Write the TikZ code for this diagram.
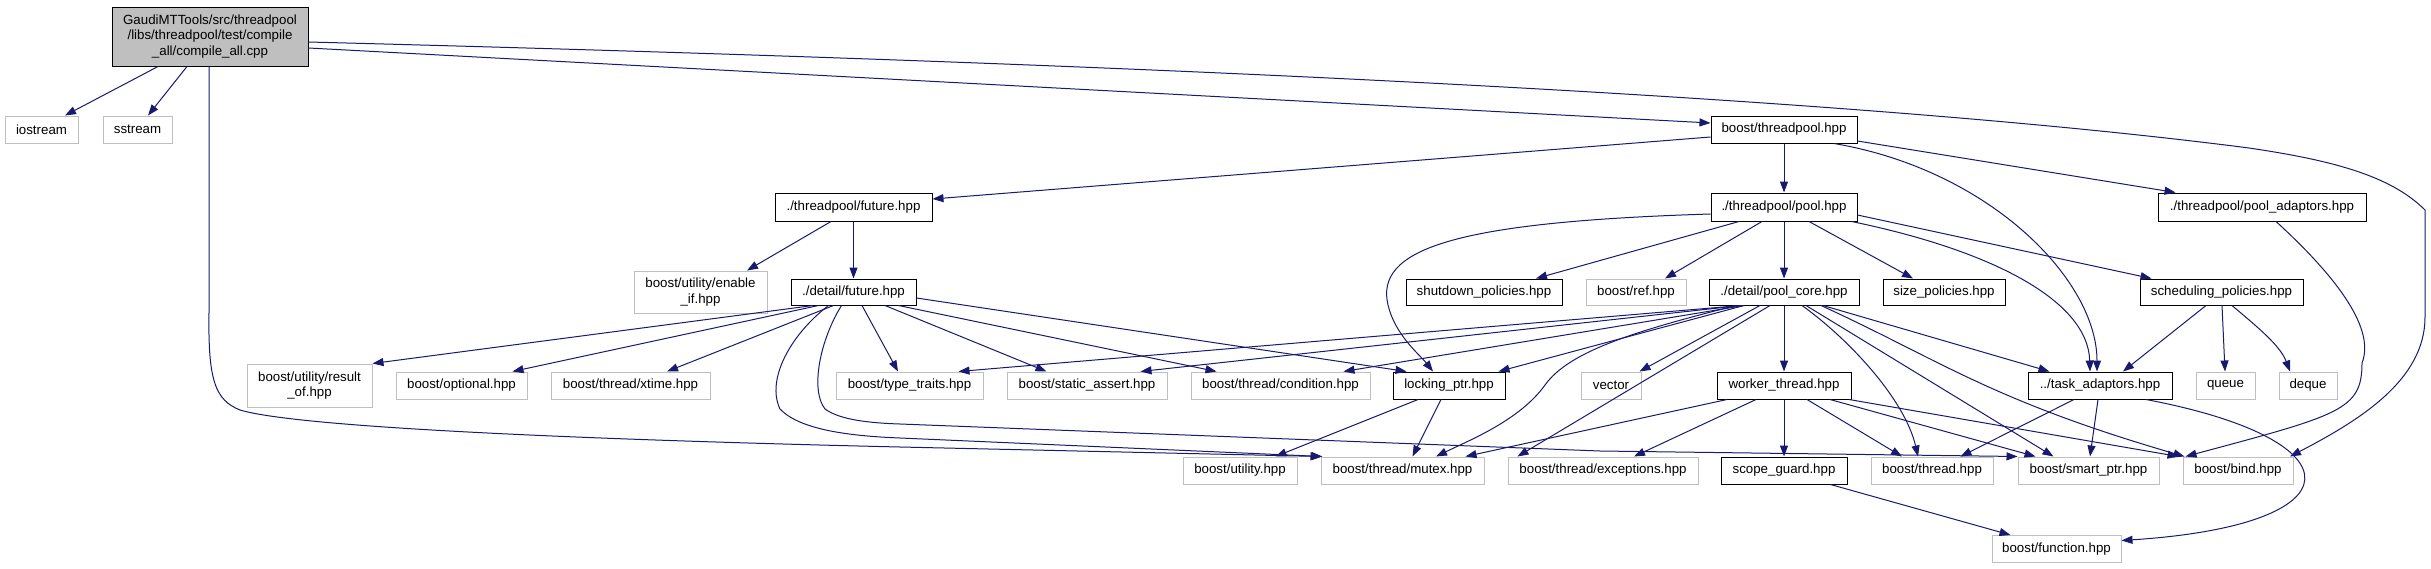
\documentclass[tikz,border=0pt]{standalone}
\usepackage{fontspec}
\setmainfont{Liberation Sans}
\usetikzlibrary{arrows.meta}
\definecolor{edgec}{HTML}{191970}
\definecolor{grayc}{HTML}{BFBFBF}
\begin{document}
\begin{tikzpicture}[x=1pt,y=-1pt,
  box/.style={draw=black, line width=1pt, fill=white, minimum height=27pt, inner sep=0pt,
    font=\fontsize{13.3}{15.5}\selectfont, align=center},
  gbox/.style={box, draw=grayc},
  edge/.style={draw=edgec, line width=1pt, -{Triangle[length=11pt,width=8pt]}}]
\useasboundingbox (0,0) rectangle (2431,568);
\fill[white] (0,0) rectangle (2431,568);
% row 0
\node[box, fill=grayc, minimum width=196pt, minimum height=59pt] (root) at (210,36.5)
  {GaudiMTTools/src/threadpool\\/libs/threadpool/test/compile\\\_all/compile\_all.cpp};
\node[gbox, minimum width=73pt] (iostream) at (41.5,129.5) {iostream};
\node[gbox, minimum width=69pt] (sstream) at (137.5,129.5) {sstream};
\node[box, minimum width=146pt] (threadpool) at (1784,129.5) {boost/threadpool.hpp};
% row 1
\node[box, minimum width=157pt, minimum height=28pt] (tpfuture) at (853.5,207) {./threadpool/future.hpp};
\node[box, minimum width=146pt, minimum height=28pt] (tppool) at (1784,207) {./threadpool/pool.hpp};
\node[box, minimum width=208pt, minimum height=28pt] (pooladapt) at (2262,207) {./threadpool/pool\_adaptors.hpp};
% row 2
\node[gbox, minimum width=133pt, minimum height=42pt] (enableif) at (700.5,292) {boost/utility/enable\\\_if.hpp};
\node[box, minimum width=125pt, minimum height=26pt] (detfuture) at (853.5,292) {./detail/future.hpp};
\node[box, minimum width=156pt, minimum height=26pt] (shutdown) at (1484,292) {shutdown\_policies.hpp};
\node[gbox, minimum width=100pt, minimum height=26pt] (ref) at (1636,292) {boost/ref.hpp};
\node[box, minimum width=150pt, minimum height=26pt] (poolcore) at (1784,292) {./detail/pool\_core.hpp};
\node[box, minimum width=122pt, minimum height=26pt] (size) at (1944,292) {size\_policies.hpp};
\node[box, minimum width=163pt, minimum height=26pt] (sched) at (2221.5,292) {scheduling\_policies.hpp};
% row 3
\node[gbox, minimum width=125pt, minimum height=43pt] (resultof) at (309.5,385.5) {boost/utility/result\\\_of.hpp};
\node[gbox, minimum width=131pt] (optional) at (461.5,385.5) {boost/optional.hpp};
\node[gbox, minimum width=159pt] (xtime) at (630.5,385.5) {boost/thread/xtime.hpp};
\node[gbox, minimum width=147pt] (typetraits) at (909.5,385.5) {boost/type\_traits.hpp};
\node[gbox, minimum width=160pt] (staticassert) at (1087,385.5) {boost/static\_assert.hpp};
\node[gbox, minimum width=179pt] (condition) at (1280.5,385.5) {boost/thread/condition.hpp};
\node[box, minimum width=112pt] (lockingptr) at (1449,385.5) {locking\_ptr.hpp};
\node[gbox, minimum width=60pt] (vector) at (1611,385.5) {vector};
\node[box, minimum width=134pt] (worker) at (1784,385.5) {worker\_thread.hpp};
\node[box, minimum width=144pt] (taskadapt) at (2100,385.5) {../task\_adaptors.hpp};
\node[gbox, minimum width=59pt] (queue) at (2225.5,385.5) {queue};
\node[gbox, minimum width=58pt] (deque) at (2308,385.5) {deque};
% row 4
\node[gbox, minimum width=114pt] (utility) at (1240,470.5) {boost/utility.hpp};
\node[gbox, minimum width=163pt] (mutex) at (1402.5,470.5) {boost/thread/mutex.hpp};
\node[gbox, minimum width=190pt] (exceptions) at (1603,470.5) {boost/thread/exceptions.hpp};
\node[box, minimum width=126pt] (scopeguard) at (1784,470.5) {scope\_guard.hpp};
\node[gbox, minimum width=122pt] (thread) at (1932,470.5) {boost/thread.hpp};
\node[gbox, minimum width=141pt] (smartptr) at (2088.5,470.5) {boost/smart\_ptr.hpp};
\node[gbox, minimum width=110pt] (bind) at (2238,470.5) {boost/bind.hpp};
% row 5
\node[gbox, minimum width=129pt] (function) at (2056.5,549) {boost/function.hpp};

% root
\draw[edge] ([xshift=-52pt]root.south) -- ([xshift=23.5pt]iostream.north);
\draw[edge] ([xshift=-23pt]root.south) -- ([xshift=10.5pt]sstream.north);
\draw[edge] ([yshift=-11.5pt]root.east) -- ([yshift=6.5pt]threadpool.west);
\draw[edge] ([yshift=-5.5pt]root.east) .. controls (1000,60) and (1800,90) .. (2249,148)
  .. controls (2330,160) and (2390,175) .. (2425,210) -- (2425,317)
  .. controls (2425,380) and (2360,420) .. ([xshift=52pt]bind.north);
\draw[edge] ([xshift=-1pt]root.south) -- (209,313) .. controls (208,380) and (215,400) .. (240,410)
  .. controls (300,428) and (600,440) .. (900,447) -- ([xshift=1pt]mutex.north west);
% threadpool
\draw[edge] ([yshift=-7.5pt]threadpool.west) -- ([yshift=8pt]tpfuture.east);
\draw[edge] (threadpool) -- (tppool);
\draw[edge] ([yshift=-11.5pt]threadpool.east) -- ([xshift=18pt]pooladapt.north west);
\draw[edge] ([xshift=50pt]threadpool.south) .. controls (1990,170) and (2097,280) .. ([xshift=-3pt]taskadapt.north);
% tpfuture
\draw[edge] ([xshift=-22.5pt]tpfuture.south) -- ([xshift=46.5pt]enableif.north);
\draw[edge] (tpfuture) -- (detfuture);
% tppool
\draw[edge] ([yshift=-7pt]tppool.west) .. controls (1450,222) and (1375,250) .. (1388,305)
  .. controls (1395,335) and (1420,355) .. ([xshift=-16pt]lockingptr.north);
\draw[edge] ([xshift=-45pt]tppool.south) -- ([xshift=52pt]shutdown.north);
\draw[edge] ([xshift=-22pt]tppool.south) -- ([xshift=29pt]ref.north);
\draw[edge] (tppool) -- (poolcore);
\draw[edge] ([xshift=25pt]tppool.south) -- ([xshift=-31pt]size.north);
\draw[edge] ([yshift=-8pt]tppool.east) -- ([xshift=12pt]sched.north west);
\draw[edge] ([xshift=-6pt]tppool.south east) .. controls (1990,250) and (2088,300) .. ([xshift=-10pt]taskadapt.north);
% pooladapt
\draw[edge] ([xshift=14pt]pooladapt.south) .. controls (2340,280) and (2375,330) .. (2362,363)
  .. controls (2362,410) and (2340,415) .. ([xshift=3pt]bind.north west);
% detfuture
\draw[edge] ([xshift=-40.5pt]detfuture.south) -- (resultof.north east);
\draw[edge] ([xshift=-35pt]detfuture.south) -- ([xshift=-15pt]optional.north east);
\draw[edge] ([xshift=-20pt]detfuture.south) -- ([xshift=36.5pt]xtime.north);
\draw[edge] ([xshift=8.5pt]detfuture.south) -- ([xshift=-11.5pt]typetraits.north);
\draw[edge] ([xshift=31.5pt]detfuture.south) -- ([xshift=40pt]staticassert.north west);
\draw[edge] ([xshift=45pt]detfuture.south) -- ([xshift=26pt]condition.north west);
\draw[edge] ([yshift=-6pt]detfuture.east) -- ([xshift=14pt]lockingptr.north west);
\draw[edge] ([xshift=-25pt]detfuture.south) .. controls (790,335) and (766,380) .. (780,409)
  .. controls (800,430) and (850,436) .. (900,438) -- ([xshift=2pt]mutex.north west);
\draw[edge] ([xshift=-12pt]detfuture.south) .. controls (820,340) and (810,390) .. (825,409)
  .. controls (840,420) and (870,423) .. (900,424) -- (1600,451) -- (smartptr.north west);
% poolcore
\draw[edge] ([xshift=-43pt]poolcore.south) -- ([xshift=-25pt]typetraits.north east);
\draw[edge] ([xshift=-43pt]poolcore.south) -- ([xshift=-27pt]staticassert.north east);
\draw[edge] ([xshift=-40pt]poolcore.south) -- ([xshift=-27pt]condition.north east);
\draw[edge] ([xshift=-40pt]poolcore.south) -- ([xshift=-7pt]lockingptr.north east);
\draw[edge] ([xshift=-24pt]poolcore.south) -- ([xshift=-2pt]vector.north east);
\draw[edge] ([xshift=-14pt]poolcore.south) -- ([xshift=10pt]exceptions.north west);
\draw[edge] (poolcore) -- (worker);
\draw[edge] ([xshift=18pt]poolcore.south) .. controls (1850,340) and (1905,400) .. ([xshift=-14pt]thread.north);
\draw[edge] ([xshift=22pt]poolcore.south) -- ([xshift=-35pt]smartptr.north);
\draw[edge] ([xshift=37pt]poolcore.south) .. controls (1940,360) and (1990,400) .. ([xshift=2pt]bind.north west);
\draw[edge] ([xshift=39pt]poolcore.south) -- ([xshift=22pt]taskadapt.north west);
\draw[edge] ([xshift=-48pt]poolcore.south) .. controls (1640,330) and (1570,350) .. (1545,385)
  .. controls (1520,420) and (1470,440) .. ([xshift=33.5pt]mutex.north);
% sched
\draw[edge] ([xshift=-15.5pt]sched.south) -- ([xshift=23pt]taskadapt.north);
\draw[edge] ([xshift=0.5pt]sched.south) -- ([xshift=-0.5pt]queue.north);
\draw[edge] ([xshift=10.5pt]sched.south) .. controls (2255,325) and (2280,345) .. ([xshift=-18pt]deque.north);
% lockingptr
\draw[edge] ([xshift=-31pt]lockingptr.south) -- ([xshift=-22pt]utility.north east);
\draw[edge] ([xshift=-8pt]lockingptr.south) -- ([xshift=10pt]mutex.north);
% worker
\draw[edge] ([xshift=-57pt]worker.south) -- ([xshift=-19pt]mutex.north east);
\draw[edge] ([xshift=-28pt]worker.south) -- ([xshift=31pt]exceptions.north);
\draw[edge] (worker) -- (scopeguard);
\draw[edge] ([xshift=23pt]worker.south) -- ([xshift=-30pt]thread.north);
\draw[edge] ([xshift=46pt]worker.south) -- ([xshift=-53pt]smartptr.north);
\draw[edge] ([xshift=65pt]worker.south) -- ([xshift=-4pt]bind.north west);
% taskadapt
\draw[edge] ([xshift=-26pt]taskadapt.south) -- ([xshift=-33pt]thread.north east);
\draw[edge] ([xshift=-2pt]taskadapt.south) -- ([xshift=1.5pt]smartptr.north);
\draw[edge] ([xshift=46pt]taskadapt.south) .. controls (2360,440) and (2360,525) .. ([yshift=8.5pt]function.east);
% scopeguard
\draw[edge] ([xshift=-17pt]scopeguard.south east) -- ([xshift=19pt]function.north west);
\end{tikzpicture}
\end{document}
